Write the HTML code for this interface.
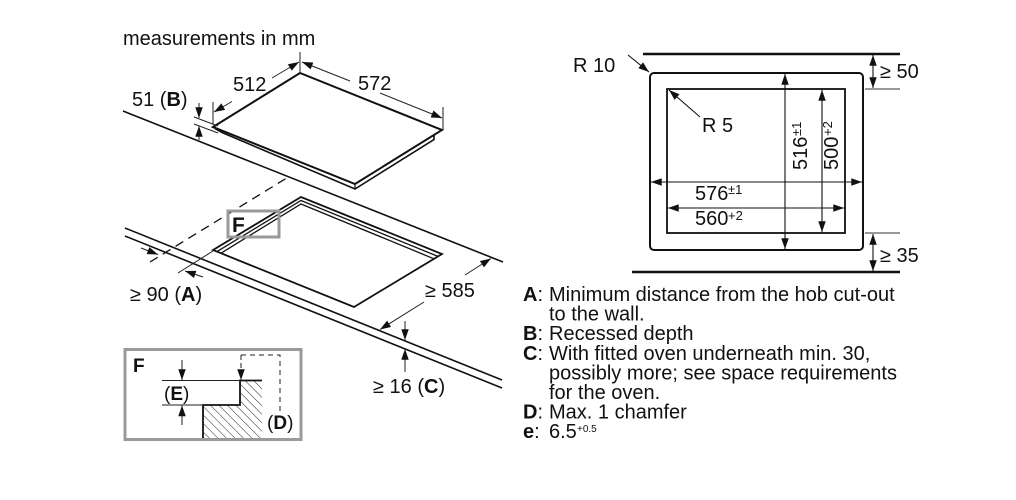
<!DOCTYPE html>
<html><head><meta charset="utf-8">
<style>
html,body{margin:0;padding:0;background:#fff;}
svg{display:block;}
text{font-family:"Liberation Sans",Arial,sans-serif;fill:#111;}
</style></head>
<body>
<svg width="1016" height="500" viewBox="0 0 1016 500" xmlns="http://www.w3.org/2000/svg">
<defs>
<marker id="a" viewBox="0 0 10 7" refX="10" refY="3.5" markerWidth="11" markerHeight="7.5" markerUnits="userSpaceOnUse" orient="auto-start-reverse">
<path d="M0,0L10,3.5L0,7z" fill="#111"/>
</marker>
<pattern id="h" width="6" height="10" patternUnits="userSpaceOnUse" patternTransform="rotate(-45)">
<line x1="0" y1="0" x2="0" y2="10" stroke="#222" stroke-width="1"/>
</pattern>
</defs>
<rect width="1016" height="500" fill="#fff"/>

<!-- ===== LEFT DIAGRAM ===== -->
<text x="123" y="45" font-size="20">measurements in mm</text>

<!-- hob -->
<polygon points="213,127 300,73 442,130 355,184" fill="#fff" stroke="#111" stroke-width="2"/>
<polyline points="215,128.5 222,132.5 355,189 434,139.5 434,135" fill="none" stroke="#111" stroke-width="1.6"/>
<line x1="355" y1="184" x2="355" y2="189" stroke="#111" stroke-width="1.2"/>

<!-- 512 / 572 dims -->
<g stroke="#222" stroke-width="1" fill="none">
<line x1="213" y1="102" x2="213" y2="124"/>
<line x1="300" y1="52" x2="300" y2="72"/>
<line x1="443" y1="107" x2="443" y2="130"/>
<line x1="232" y1="101.5" x2="214" y2="112" marker-end="url(#a)"/>
<line x1="272" y1="78" x2="299" y2="62" marker-end="url(#a)"/>
<line x1="350" y1="81" x2="302" y2="62" marker-end="url(#a)"/>
<line x1="380" y1="93" x2="442" y2="118" marker-end="url(#a)"/>
</g>
<text x="233" y="91" font-size="20">512</text>
<text x="358" y="90" font-size="20">572</text>

<!-- B dim -->
<text x="132" y="106" font-size="20">51 (<tspan font-weight="bold">B</tspan>)</text>
<g stroke="#222" stroke-width="1" fill="none">
<line x1="199" y1="103" x2="199" y2="118" marker-end="url(#a)"/>
<line x1="199" y1="140" x2="199" y2="126" marker-end="url(#a)"/>
<line x1="194" y1="117" x2="218" y2="126"/>
<line x1="194" y1="124" x2="218" y2="133"/>
</g>

<!-- countertop lines -->
<g stroke="#111" stroke-width="1.6" fill="none">
<line x1="123" y1="111" x2="503" y2="262"/>
<line x1="125" y1="228" x2="502" y2="380"/>
<line x1="125" y1="236" x2="502" y2="388"/>
</g>
<line x1="150" y1="262" x2="290" y2="176" stroke="#111" stroke-width="1.3" stroke-dasharray="9,6"/>

<!-- cutout -->
<polygon points="213,250 301,197 442,254 354,307" fill="none" stroke="#111" stroke-width="1.8"/>
<polyline points="217,251.6 301,200.5 438,256.4" fill="none" stroke="#111" stroke-width="1.3"/>
<polyline points="221,253.2 301,204 434,258.8" fill="none" stroke="#111" stroke-width="1.3"/>

<!-- F box -->
<rect x="228" y="211" width="51" height="26" fill="none" stroke="#9a9a9a" stroke-width="3"/>
<text x="232" y="232" font-size="21" font-weight="bold">F</text>

<!-- A dim -->
<g stroke="#222" stroke-width="1" fill="none">
<line x1="213" y1="251" x2="178" y2="273"/>
<line x1="141" y1="248" x2="158" y2="254.5" marker-end="url(#a)"/>
<line x1="203" y1="277" x2="185" y2="271" marker-end="url(#a)"/>
</g>
<text x="130" y="301" font-size="20">≥ 90 (<tspan font-weight="bold">A</tspan>)</text>

<!-- 585 dim -->
<g stroke="#222" stroke-width="1" fill="none">
<line x1="465" y1="275" x2="491" y2="258.5" marker-end="url(#a)"/>
<line x1="424" y1="302" x2="380" y2="329.5" marker-end="url(#a)"/>
</g>
<text x="425" y="297" font-size="20">≥ 585</text>

<!-- 16 dim -->
<g stroke="#222" stroke-width="1" fill="none">
<line x1="405" y1="321" x2="405" y2="340" marker-end="url(#a)"/>
<line x1="405" y1="372" x2="405" y2="349" marker-end="url(#a)"/>
</g>
<text x="373" y="393" font-size="20">≥ 16 (<tspan font-weight="bold">C</tspan>)</text>

<!-- F inset -->
<rect x="125" y="349.5" width="176" height="90" fill="#fff" stroke="#9a9a9a" stroke-width="3"/>
<text x="133" y="372" font-size="19" font-weight="bold">F</text>
<polygon points="203,405 240,405 240,380.5 262,380.5 262,438 203,438" fill="url(#h)"/>
<polyline points="203,438 203,405 240,405 240,380.5 262,380.5" fill="none" stroke="#111" stroke-width="1.8"/>
<g stroke="#222" stroke-width="1" fill="none">
<line x1="162" y1="380.5" x2="240" y2="380.5"/>
<line x1="162" y1="405" x2="203" y2="405"/>
<line x1="182" y1="360" x2="182" y2="380" marker-end="url(#a)"/>
<line x1="182" y1="425" x2="182" y2="405.5" marker-end="url(#a)"/>
<polyline points="241,355 280,355 280,411" stroke-dasharray="5,4"/>
<line x1="241" y1="355" x2="241" y2="380" marker-end="url(#a)" stroke-dasharray="5,3"/>
</g>
<text x="164" y="400" font-size="19">(<tspan font-weight="bold">E</tspan>)</text>
<text x="267" y="429" font-size="19">(<tspan font-weight="bold">D</tspan>)</text>

<!-- ===== RIGHT DIAGRAM ===== -->
<g stroke="#111" fill="none">
<line x1="643" y1="54" x2="900" y2="54" stroke-width="2.5"/>
<line x1="632" y1="272" x2="900" y2="272" stroke-width="2.5"/>
<rect x="650" y="73" width="213" height="177" rx="4" stroke-width="2"/>
<rect x="667" y="89" width="178" height="144" stroke-width="1.8"/>
</g>
<g stroke="#333" stroke-width="1" fill="none">
<line x1="865" y1="89" x2="900" y2="89"/>
<line x1="865" y1="233" x2="900" y2="233"/>
</g>
<g stroke="#111" stroke-width="1.1" fill="none">
<line x1="873" y1="55" x2="873" y2="88" marker-start="url(#a)" marker-end="url(#a)"/>
<line x1="873" y1="234" x2="873" y2="271" marker-start="url(#a)" marker-end="url(#a)"/>
<line x1="651" y1="182" x2="862" y2="182" marker-start="url(#a)" marker-end="url(#a)"/>
<line x1="668" y1="208" x2="844" y2="208" marker-start="url(#a)" marker-end="url(#a)"/>
<line x1="785" y1="74" x2="785" y2="249" marker-start="url(#a)" marker-end="url(#a)"/>
<line x1="822" y1="90" x2="822" y2="232" marker-start="url(#a)" marker-end="url(#a)"/>
<line x1="628" y1="55" x2="649" y2="72" marker-end="url(#a)"/>
<line x1="700" y1="117" x2="669" y2="90" marker-end="url(#a)"/>
</g>
<text x="573" y="72" font-size="20">R 10</text>
<text x="702" y="132" font-size="20">R 5</text>
<text x="880" y="78" font-size="20">≥ 50</text>
<text x="880" y="262" font-size="20">≥ 35</text>
<text x="695" y="200" font-size="20">576</text>
<text x="728" y="194" font-size="13">±1</text>
<text x="695" y="225" font-size="20">560</text>
<text x="728" y="220" font-size="13">+2</text>
<g transform="translate(807,170) rotate(-90)">
<text x="0" y="0" font-size="20">516</text>
<text x="34" y="-6" font-size="13">±1</text>
</g>
<g transform="translate(838,170) rotate(-90)">
<text x="0" y="0" font-size="20">500</text>
<text x="34" y="-6" font-size="13">+2</text>
</g>

<!-- ===== LEGEND ===== -->
<g font-size="20">
<text x="523" y="301"><tspan font-weight="bold">A</tspan>:</text>
<text x="549" y="301">Minimum distance from the hob cut-out</text>
<text x="549" y="320.6">to the wall.</text>
<text x="523" y="340.2"><tspan font-weight="bold">B</tspan>:</text>
<text x="549" y="340.2">Recessed depth</text>
<text x="523" y="359.8"><tspan font-weight="bold">C</tspan>:</text>
<text x="549" y="359.8">With fitted oven underneath min. 30,</text>
<text x="549" y="379.4">possibly more; see space requirements</text>
<text x="549" y="399">for the oven.</text>
<text x="523" y="418.6"><tspan font-weight="bold">D</tspan>:</text>
<text x="549" y="418.6">Max. 1 chamfer</text>
<text x="523" y="438.2"><tspan font-weight="bold">e</tspan>:</text>
<text x="549" y="438.2">6.5</text>
</g>
<text x="577" y="432" font-size="10">+0.5</text>
</svg>
</body></html>
